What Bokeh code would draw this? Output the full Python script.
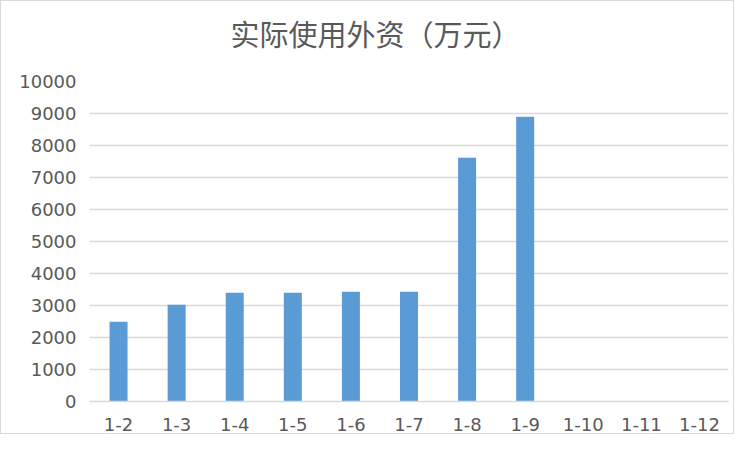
from bokeh.plotting import figure
from bokeh.models import FixedTicker, Range1d, Title
from bokeh.embed import file_html
from bokeh.resources import INLINE

title_text = "实际使用外资（万元）"
categories = ["1-2", "1-3", "1-4", "1-5", "1-6", "1-7", "1-8", "1-9", "1-10", "1-11", "1-12"]
values = [2490, 3020, 3400, 3400, 3430, 3430, 7620, 8900, 0, 0, 0]
y_ticks = [0, 1000, 2000, 3000, 4000, 5000, 6000, 7000, 8000, 9000, 10000]

GRID = "#d9d9d9"
TXT = "#595959"

p = figure(x_range=categories, width=734, height=434, output_backend="svg",
           toolbar_location=None, tools="", title_location=None,
           min_border_left=88, min_border_right=7, min_border_top=80, min_border_bottom=34)
p.styles = {"border": "1px solid #d9d9d9"}
p.y_range = Range1d(0, 10000)
p.x_range.range_padding = 0

p.vbar(x=categories, top=values, width=0.31, color="#5b9bd5", line_color=None)

# spacer panel between the title and the plot frame
spacer = Title(text=" ", text_font_size="1px", standoff=21)
p.add_layout(spacer, "above")

main_title = Title(text=title_text, text_font="Noto Sans CJK SC", text_font_size="29px",
                   text_font_style="normal", text_color=TXT, align="left", offset=141,
                   vertical_align="top", standoff=4)
p.add_layout(main_title, "above")

p.outline_line_color = None
p.xgrid.grid_line_color = None
p.ygrid.grid_line_color = GRID
p.ygrid.grid_line_width = 1.3

p.yaxis.ticker = FixedTicker(ticks=y_ticks)
p.yaxis.axis_line_color = None
p.yaxis.major_tick_line_color = None
p.yaxis.minor_tick_line_color = None
p.yaxis.major_tick_out = 0
p.yaxis.major_label_standoff = 13

p.xaxis.axis_line_color = GRID
p.xaxis.axis_line_width = 1.3
p.xaxis.major_tick_line_color = None
p.xaxis.major_tick_out = 0
p.xaxis.major_label_standoff = 16

for ax in (p.xaxis, p.yaxis):
    ax.major_label_text_font = "DejaVu Sans"
    ax.major_label_text_font_size = "18px"
    ax.major_label_text_color = TXT

open("out.html", "w").write(file_html(p, INLINE))
